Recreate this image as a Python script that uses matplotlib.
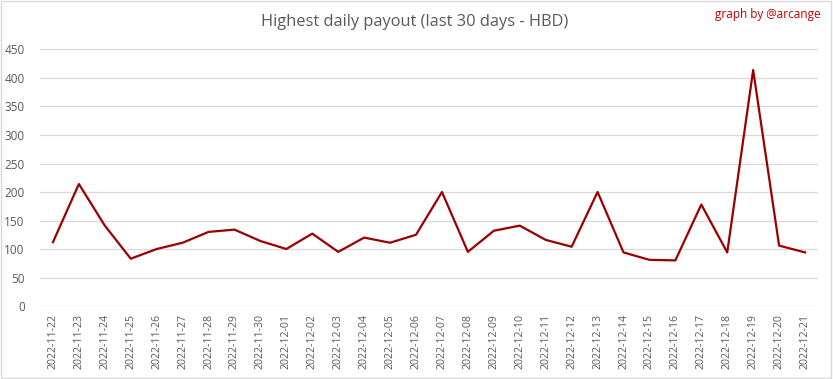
import matplotlib.pyplot as plt
from matplotlib.patches import Rectangle

# daily data (HBD)
dates = ['2022-11-22', '2022-11-23', '2022-11-24', '2022-11-25', '2022-11-26',
         '2022-11-27', '2022-11-28', '2022-11-29', '2022-11-30', '2022-12-01',
         '2022-12-02', '2022-12-03', '2022-12-04', '2022-12-05', '2022-12-06',
         '2022-12-07', '2022-12-08', '2022-12-09', '2022-12-10', '2022-12-11',
         '2022-12-12', '2022-12-13', '2022-12-14', '2022-12-15', '2022-12-16',
         '2022-12-17', '2022-12-18', '2022-12-19', '2022-12-20', '2022-12-21']
payout = [112, 214, 141, 83, 100, 111, 130, 134, 114, 100,
          127, 95, 120, 111, 125, 200, 95, 132, 141, 116,
          104, 200, 94, 81, 80, 178, 94, 414, 106, 94]
yticks = [0, 50, 100, 150, 200, 250, 300, 350, 400, 450]

plt.rcParams['font.family'] = ['Open Sans', 'DejaVu Sans']

fig = plt.figure(figsize=(8.33, 3.79), dpi=100)
ax = fig.add_axes([0.048, 0.1926, 0.934, 0.6768])

x = range(len(dates))
ax.plot(x, payout, color='#990000', linewidth=1.6, zorder=3)

ax.set_xlim(-0.5, len(dates) - 0.5)
ax.set_ylim(0, 450)
ax.set_yticks(yticks)
ax.set_xticks(list(x))
ax.set_xticklabels(dates, rotation=90, fontsize=7.6, color='#595959')
ax.tick_params(axis='y', labelsize=8.5, labelcolor='#595959', length=0, pad=11)
ax.tick_params(axis='x', length=0, pad=6)
ax.grid(axis='y', color='#d9d9d9', linewidth=0.9)
for s in ax.spines.values():
    s.set_visible(False)

fig.text(0.498, 0.942, 'Highest daily payout (last 30 days - HBD)', ha='center', va='center',
         fontsize=11.8, color='#595959')
fig.text(0.985, 0.962, 'graph by @arcange', ha='right', va='center', fontsize=8.5, color='#c00000')

fig.patches.append(Rectangle((0.001, 0.002), 0.997, 0.995, transform=fig.transFigure,
                             fill=False, edgecolor='#d9d9d9', linewidth=1))

fig.savefig('out.png', dpi=100)
